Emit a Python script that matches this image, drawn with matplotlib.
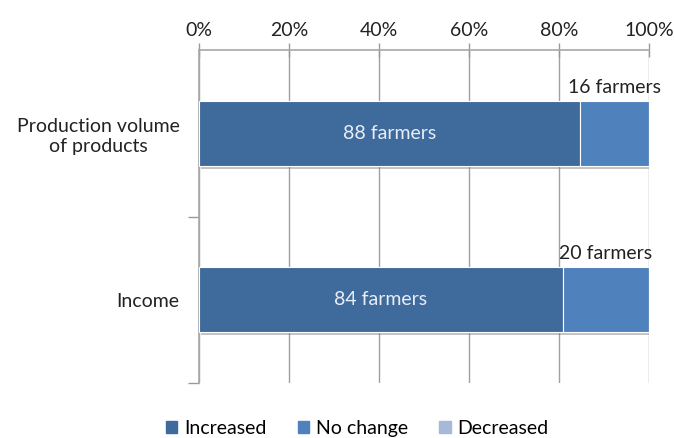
import numpy as np
import matplotlib.pyplot as plt
from matplotlib import patheffects as pe
from matplotlib.patches import Patch

categories = ['Production volume\nof products', 'Income']
series = ['Increased', 'No change', 'Decreased']
increased = [88, 84]
no_change = [16, 20]
decreased = [0, 0]
colors = ['#3F6A9C', '#4F81BD', '#A7B9D9']
tick_labels = ['0%', '20%', '40%', '60%', '80%', '100%']

plt.rcParams['font.family'] = ['Lato', 'DejaVu Sans']
FS = 14

counts = np.array([increased, no_change, decreased], dtype=float)
pct = counts / counts.sum(axis=0) * 100

fig = plt.figure(figsize=(6.74, 4.38), dpi=100)
ax = fig.add_axes([0.2953, 0.1256, 0.6677, 0.7602])

y = np.arange(len(categories))
shadow = [pe.SimplePatchShadow(offset=(1.5, -2), shadow_rgbFace='#888888', alpha=0.5), pe.Normal()]
left = np.zeros(len(categories))
for i, name in enumerate(series):
    bars = ax.barh(y, pct[i], left=left, height=0.39, color=colors[i],
                   edgecolor='white', linewidth=0.8, label=name, zorder=3)
    for b in bars:
        b.set_path_effects(shadow)
    left += pct[i]

# labels
for j in range(len(categories)):
    ax.text(pct[0, j] / 2, y[j], f'{increased[j]} farmers', ha='center', va='center',
            color='#E8EEF6', fontsize=FS, zorder=5)
    xc = pct[0, j] + pct[1, j] / 2
    ax.text(xc, y[j] - 0.195 - 0.03, f'{no_change[j]} farmers', ha='center', va='bottom',
            color='#222222', fontsize=FS, zorder=5)

ax.set_xlim(0, 100)
ax.set_ylim(1.5, -0.5)
ax.xaxis.tick_top()
ax.set_xticks(np.arange(0, 101, 20))
ax.set_xticklabels(tick_labels)
ax.tick_params(axis='x', direction='inout', length=10, color='#999999', labelsize=FS,
               labelcolor='#222222', pad=3, width=1)
ax.grid(axis='x', color='#A0A0A0', linewidth=1, zorder=0)

ax.set_yticks(y)
ax.set_yticklabels(categories, multialignment='center')
ax.set_yticks([0.5, 1.5], minor=True)
ax.tick_params(axis='y', which='major', length=0, labelsize=FS, labelcolor='#222222', pad=14)
ax.tick_params(axis='y', which='minor', length=8, color='#999999', width=1)

for s in ['right', 'bottom']:
    ax.spines[s].set_visible(False)
for s in ['left', 'top']:
    ax.spines[s].set_color('#A8A8A8')
    ax.spines[s].set_linewidth(1.2)

handles = [Patch(color=c, label=n) for c, n in zip(colors, series)]
fig.legend(handles=handles, loc='center', bbox_to_anchor=(0.53, 0.022), ncol=3,
           frameon=False, fontsize=FS, handlelength=0.6, handleheight=0.6,
           handletextpad=0.35, columnspacing=1.6)

fig.savefig('out.png', dpi=100)
